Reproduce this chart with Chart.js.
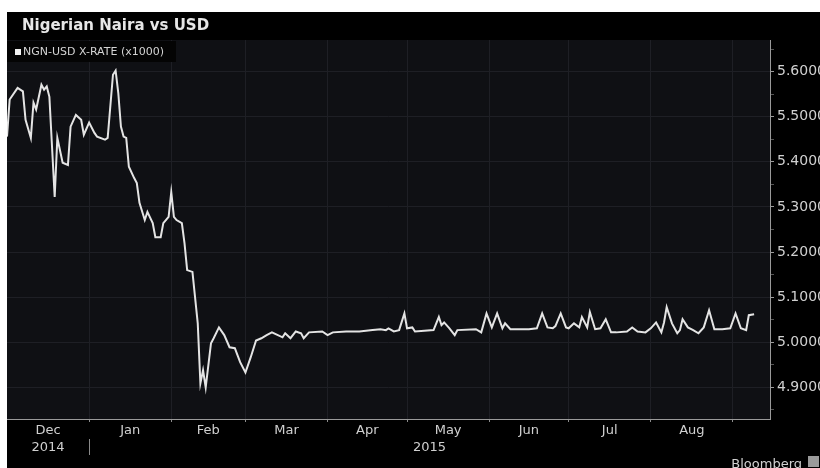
<!DOCTYPE html>
<html>
<head>
<meta charset="utf-8">
<title>Nigerian Naira vs USD</title>
<script src="https://cdn.jsdelivr.net/npm/chart.js@4.4.1/dist/chart.umd.min.js"></script>
<style>
  body { margin: 0; background: #fff; }
  .frame { position: absolute; left: 7px; top: 12px; width: 813px; height: 456px; background: #000; }
</style>
</head>
<body>
<div class="frame"><canvas id="nairaChart"></canvas></div>
<script>
const chartTitle = "Nigerian Naira vs USD";
const seriesLabel = "NGN-USD X-RATE (x1000)";

// days counted from 1 Dec 2014
const dayOffsets = [
  0, 1, 4, 6, 7, 9, 10, 11, 13, 14, 15, 16, 18, 19, 21, 23, 24, 26, 28, 29,
  31, 33, 34, 37, 38, 40, 41, 42, 43, 44, 45, 46, 48, 49, 50, 52, 53, 55, 56, 58,
  59, 61, 62, 63, 64, 66, 67, 68, 70, 72, 73, 74, 75, 77, 78, 80, 82, 84, 86, 88,
  90, 92, 94, 96, 98, 100, 104, 105, 107, 109, 111, 112, 114, 119, 121, 123, 128, 133, 138, 141,
  143, 144, 146, 148, 150, 151, 153, 154, 161, 163, 164, 165, 167, 169, 170, 177, 179, 181, 183, 185,
  187, 188, 190, 197, 200, 202, 204, 206, 207, 209, 211, 212, 214, 216, 217, 219, 220, 222, 224, 226,
  228, 230, 234, 236, 238, 241, 243, 245, 247, 248, 249, 251, 253, 254, 255, 257, 259, 261, 263, 265,
  267, 270, 273, 275, 277, 279, 280, 282
];

const nairaRate = [
  5.456, 5.538, 5.564, 5.556, 5.493, 5.453, 5.531, 5.516, 5.571, 5.560, 5.567, 5.544, 5.322, 5.453, 5.398, 5.393, 5.478, 5.504, 5.493, 5.460,
  5.487, 5.464, 5.456, 5.449, 5.453, 5.593, 5.602, 5.553, 5.478, 5.456, 5.453, 5.389, 5.364, 5.353, 5.309, 5.271, 5.289, 5.264, 5.233, 5.233,
  5.264, 5.278, 5.333, 5.278, 5.271, 5.264, 5.220, 5.160, 5.156, 5.042, 4.909, 4.938, 4.900, 4.998, 5.009, 5.033, 5.016, 4.989, 4.987, 4.956,
  4.933, 4.967, 5.004, 5.009, 5.016, 5.022, 5.011, 5.020, 5.009, 5.024, 5.020, 5.009, 5.022, 5.024, 5.016, 5.022, 5.024, 5.024, 5.027, 5.029,
  5.027, 5.031, 5.024, 5.027, 5.064, 5.031, 5.033, 5.024, 5.027, 5.056, 5.038, 5.044, 5.031, 5.016, 5.027, 5.029, 5.022, 5.064, 5.033, 5.064,
  5.031, 5.042, 5.029, 5.029, 5.031, 5.064, 5.033, 5.031, 5.036, 5.064, 5.033, 5.031, 5.042, 5.033, 5.056, 5.033, 5.067, 5.029, 5.031, 5.051,
  5.022, 5.022, 5.024, 5.033, 5.024, 5.022, 5.031, 5.044, 5.022, 5.044, 5.078, 5.042, 5.020, 5.027, 5.051, 5.033, 5.027, 5.020, 5.033, 5.071,
  5.029, 5.029, 5.031, 5.064, 5.031, 5.027, 5.060, 5.062
];

const monthLabels = ["Dec", "Jan", "Feb", "Mar", "Apr", "May", "Jun", "Jul", "Aug"];
const monthMids = [15.5, 46.5, 76, 105.5, 136, 166.5, 197, 227.5, 258.5];
const monthStarts = [31, 62, 90, 121, 151, 182, 212, 243, 274];
const yearLabels = ["2014", "2015"];
const yearMids = [15.5, 159.5];
const yearBreak = 31;
const rateTicks = [4.85, 4.9, 4.95, 5.0, 5.05, 5.1, 5.15, 5.2, 5.25, 5.3, 5.35, 5.4, 5.45, 5.5, 5.55, 5.6, 5.65];
const lastDay = 288;

const isMajor = v => Math.round(v * 100) % 10 === 0;

Chart.defaults.font.family = "'DejaVu Sans', sans-serif";

// header bar, key box, year divider and source line
const chrome = {
  id: "chrome",
  beforeDraw(chart) {
    const { ctx, chartArea } = chart;
    ctx.save();
    ctx.fillStyle = "#0f1014";
    ctx.fillRect(chartArea.left, chartArea.top, chartArea.width, chartArea.height);
    ctx.restore();
  },
  afterDraw(chart) {
    const { ctx, chartArea, scales } = chart;
    ctx.save();
    ctx.textBaseline = "middle";

    ctx.fillStyle = "#e6e6e6";
    ctx.font = "bold 15px 'DejaVu Sans'";
    ctx.fillText(chartTitle, 15, 14);

    ctx.fillStyle = "#040404";
    ctx.fillRect(chartArea.left, chartArea.top + 1, 169, 21);
    ctx.fillStyle = "#f2f2f2";
    ctx.fillRect(8, chartArea.top + 9, 6, 6);
    ctx.fillStyle = "#d4d4d4";
    ctx.font = "11px 'DejaVu Sans'";
    ctx.fillText(seriesLabel, 16, chartArea.top + 12);

    const bx = Math.round(scales.x.getPixelForValue(yearBreak)) + 0.5;
    ctx.strokeStyle = "#8a8a8a";
    ctx.lineWidth = 1;
    ctx.beginPath();
    ctx.moveTo(bx, 427);
    ctx.lineTo(bx, 443);
    ctx.stroke();

    ctx.fillStyle = "#d0d0d0";
    ctx.font = "13px 'DejaVu Sans'";
    ctx.textAlign = "right";
    ctx.textBaseline = "top";
    ctx.fillText("Bloomberg", 795, 446);
    ctx.fillStyle = "#9a9a9a";
    ctx.fillRect(801, 444, 11, 11);
    ctx.restore();
  }
};

const ctx = document.getElementById("nairaChart");
new Chart(ctx, {
  type: "line",
  data: {
    datasets: [
      {
        label: seriesLabel,
        data: dayOffsets.map((d, i) => ({ x: d, y: nairaRate[i] })),
        borderColor: "#e4e4e4",
        borderWidth: 2,
        pointRadius: 0,
        tension: 0,
        fill: false,
      },
    ],
  },
  options: {
    responsive: true,
    maintainAspectRatio: false,
    animation: false,
    layout: { padding: { top: 28, bottom: 14, left: 0, right: 0 } },
    plugins: {
      legend: { display: false },
      tooltip: { enabled: false },
    },
    scales: {
      x: {
        type: "linear",
        min: 0,
        max: lastDay,
        afterBuildTicks: s => { s.ticks = monthStarts.map(v => ({ value: v })); },
        afterFit: s => { s.height = 4; },
        ticks: { display: false },
        grid: { color: "#1e1f25", tickColor: "#8c8c8c", tickLength: 3 },
        border: { color: "#9a9a9a" },
      },
      months: {
        type: "linear",
        position: "bottom",
        min: 0,
        max: lastDay,
        afterBuildTicks: s => { s.ticks = monthMids.map(v => ({ value: v })); },
        afterFit: s => { s.height = 15; },
        grid: { display: false, drawTicks: false },
        border: { display: false },
        ticks: {
          autoSkip: false,
          maxRotation: 0,
          padding: 0,
          color: "#d0d0d0",
          font: { size: 13 },
          callback: (v, i) => monthLabels[i],
        },
      },
      years: {
        type: "linear",
        position: "bottom",
        min: 0,
        max: lastDay,
        afterBuildTicks: s => { s.ticks = yearMids.map(v => ({ value: v })); },
        afterFit: s => { s.height = 16; },
        grid: { display: false, drawTicks: false },
        border: { display: false },
        ticks: {
          autoSkip: false,
          maxRotation: 0,
          padding: 2,
          color: "#d0d0d0",
          font: { size: 13 },
          callback: (v, i) => yearLabels[i],
        },
      },
      y: {
        position: "right",
        min: 4.83,
        max: 5.67,
        afterBuildTicks: s => { s.ticks = rateTicks.map(v => ({ value: v })); },
        afterFit: s => { s.width = 50; },
        grid: {
          color: c => (c.tick && isMajor(c.tick.value) ? "#1e1f25" : "rgba(0,0,0,0)"),
          tickColor: c => (c.tick && isMajor(c.tick.value) ? "#9a9a9a" : "#555"),
          tickLength: 4,
        },
        border: { color: "#9a9a9a" },
        ticks: {
          padding: 3,
          color: "#d0d0d0",
          font: { size: 14 },
          callback: v => (isMajor(v) ? v.toFixed(4) : ""),
        },
      },
    },
  },
  plugins: [chrome],
});
</script>
</body>
</html>
